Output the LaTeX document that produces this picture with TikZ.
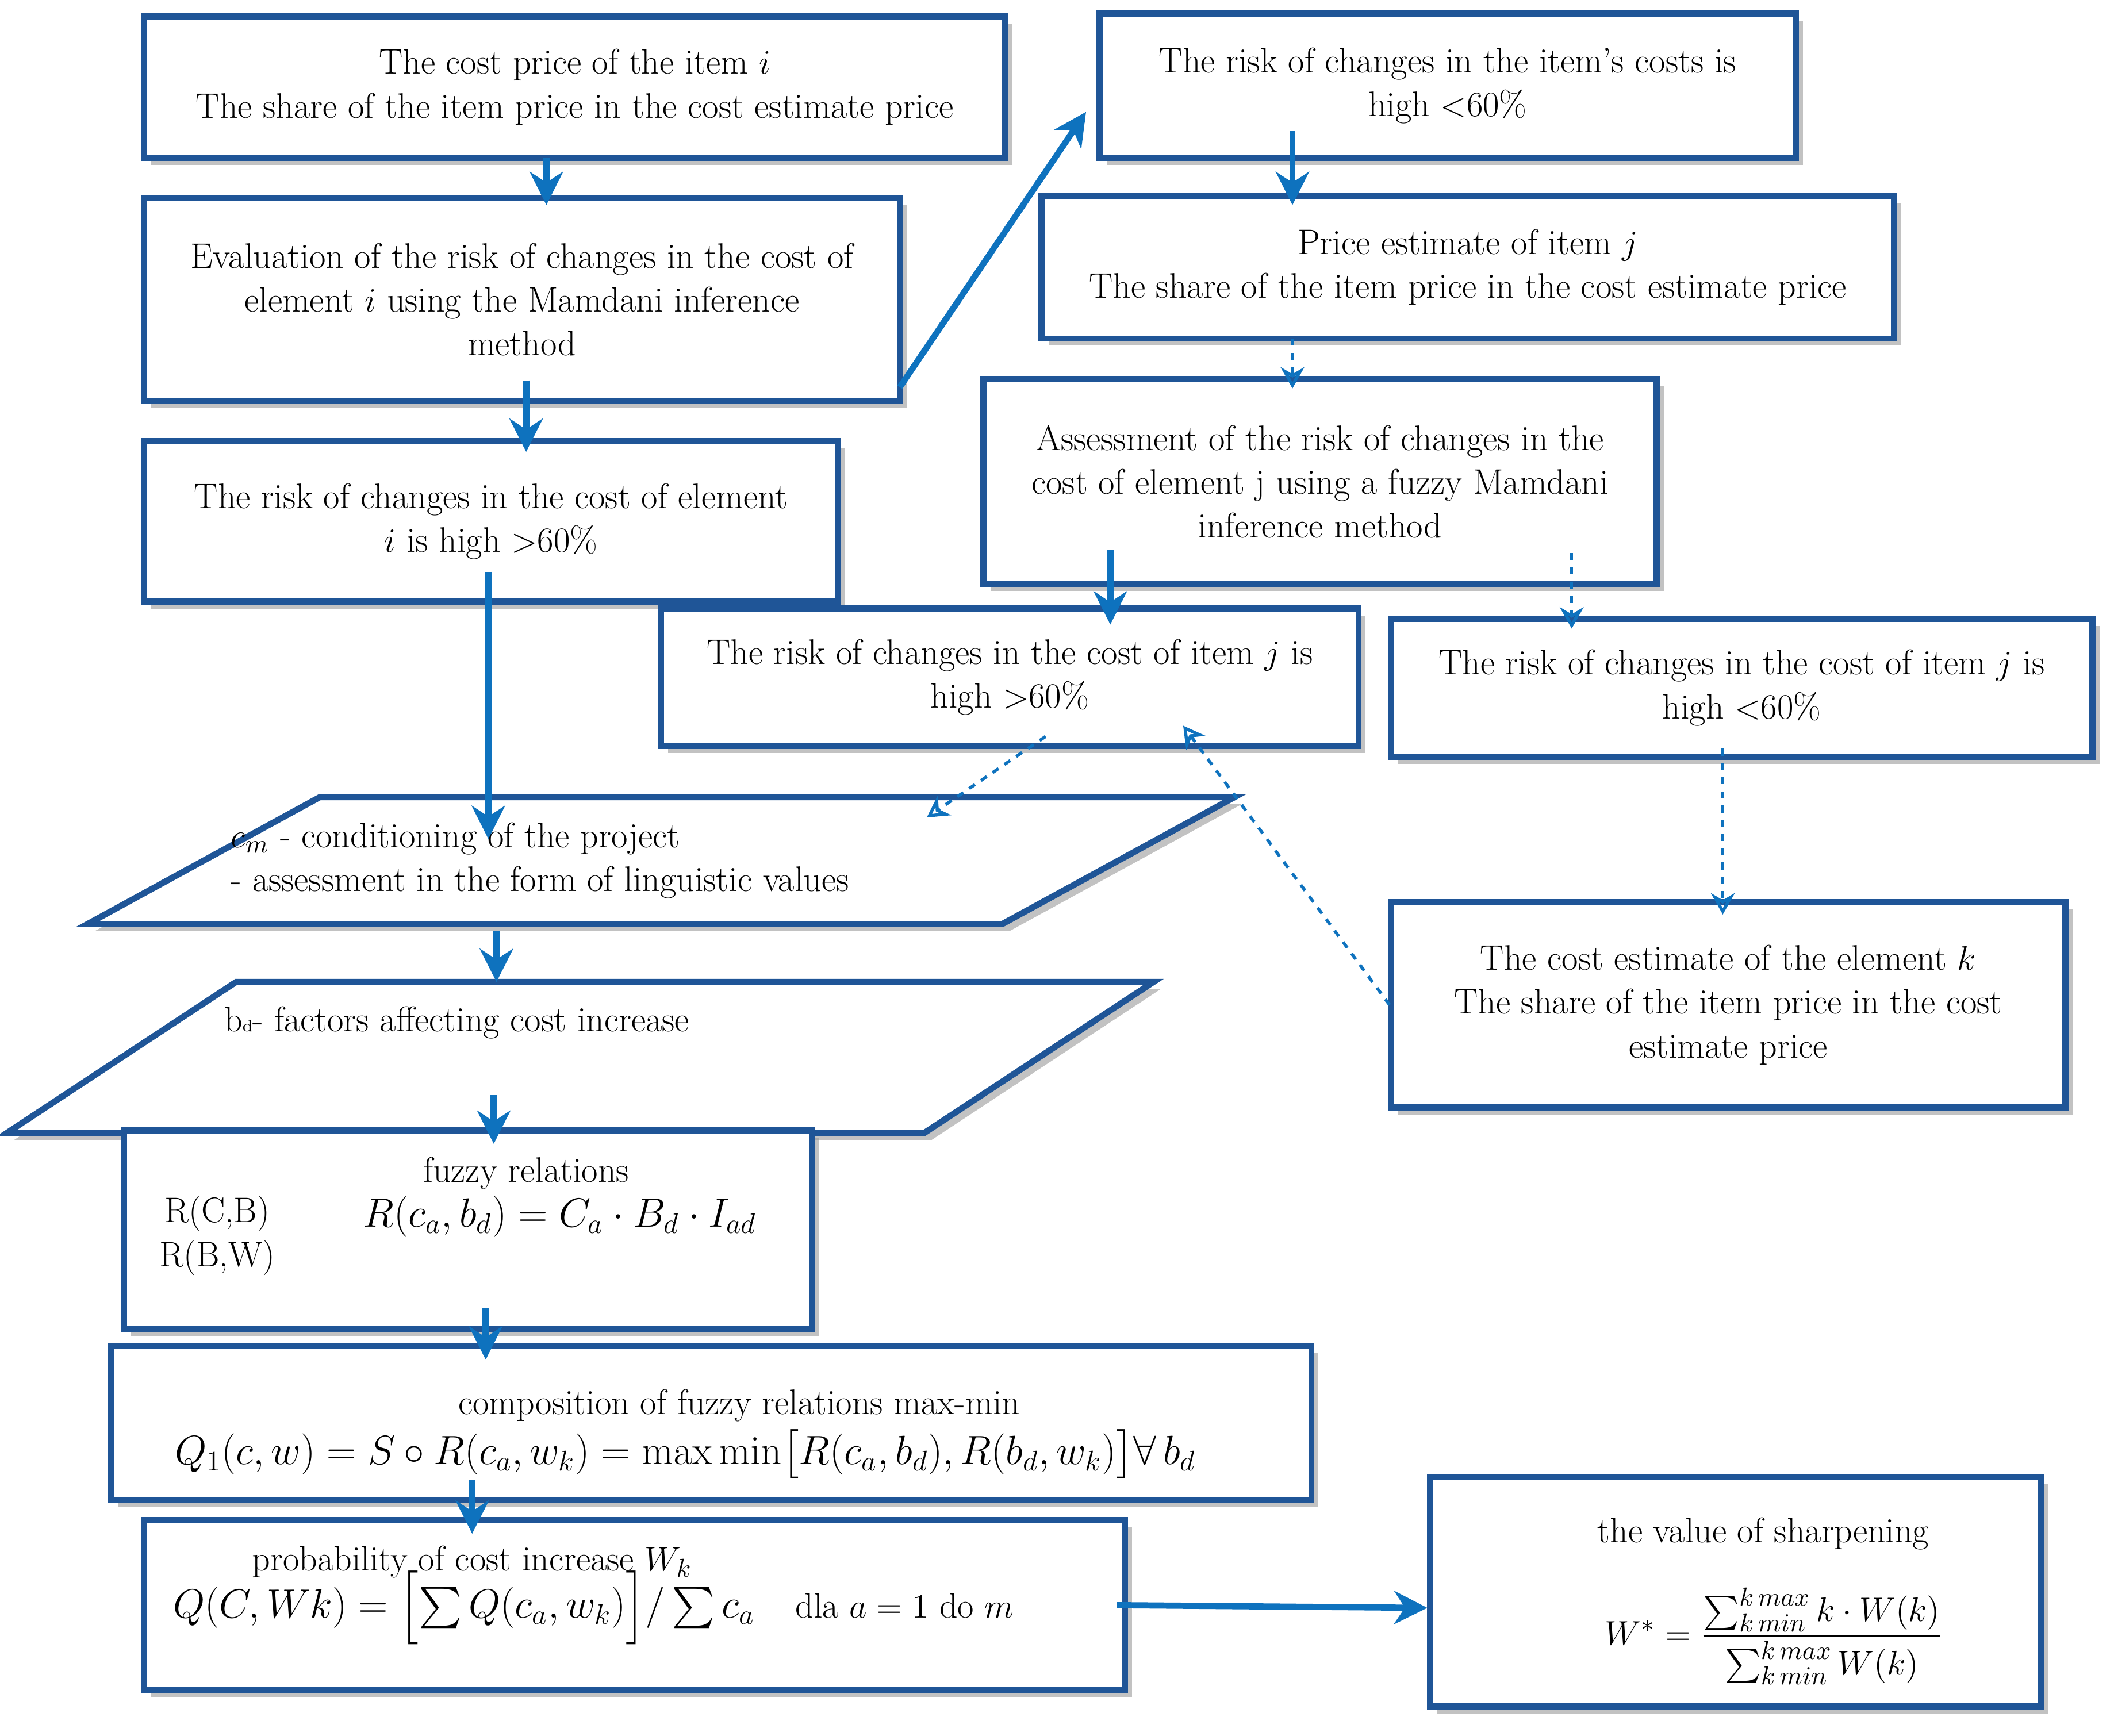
\documentclass[tikz,border=0pt]{standalone}
\usepackage{amsmath}
\usetikzlibrary{arrows.meta,shadows}
\definecolor{bdr}{HTML}{1F5597}
\definecolor{arr}{HTML}{0E72BE}
\newcommand\bx[6]{%
 \pgfmathsetmacro\cxx{(#2+#4)/2}\pgfmathsetmacro\cyy{(#3+#5)/2}%
 \pgfmathsetmacro\ww{(#4-#2)*0.02}\pgfmathsetmacro\hh{(#5-#3)*0.02}%
 \node[box,minimum width=\ww cm,minimum height=\hh cm] (#1) at (\cxx,\cyy) {#6};}
\begin{document}
\begin{tikzpicture}[x=0.02cm,y=-0.02cm,
 box/.style={draw=bdr,line width=2.6pt,fill=white,align=center,inner sep=0pt,
   drop shadow={shadow xshift=3pt,shadow yshift=-3pt,fill=black!40,opacity=0.6}},
 thick/.style={draw=arr,line width=2.6pt,-{Stealth[length=14pt,width=14pt]}},
 dsh/.style={draw=arr,line width=1.3pt,dashed,-{Stealth[length=9pt,width=10pt,open]}},
 every node/.style={font=\fontsize{15}{18.5}\selectfont}]
\useasboundingbox (0,0) rectangle (1567,1287);
\bx{b1}{107}{12}{745}{117}{The cost price of the item $i$\\The share of the item price in the cost estimate price}
\bx{b2}{107}{147}{667}{297}{Evaluation of the risk of changes in the cost of\\element $i$ using the Mamdani inference\\method}
\bx{b3}{107}{327}{621}{446}{The risk of changes in the cost of element\\$i$ is high $>$60\%}
\bx{b4}{815}{10}{1331}{117}{The risk of changes in the item's costs is\\high $<$60\%}
\bx{b5}{772}{145}{1404}{251}{Price estimate of item $j$\\The share of the item price in the cost estimate price}
\bx{b6}{729}{281}{1228}{433}{Assessment of the risk of changes in the\\cost of element j using a fuzzy Mamdani\\inference method}
\bx{b7}{490}{451}{1007}{553}{The risk of changes in the cost of item $j$ is\\high $>$60\%}
\bx{b8}{1031}{459}{1551}{561}{The risk of changes in the cost of item $j$ is\\high $<$60\%}
\bx{b9}{1031}{669}{1531}{821}{The cost estimate of the element $k$\\The share of the item price in the cost\\estimate price}
% parallelograms
\draw[draw=bdr,line width=2.6pt,fill=white,drop shadow={shadow xshift=3pt,shadow yshift=-3pt,fill=black!40,opacity=0.6}] (65,685)--(237,591)--(915,591)--(743,685)--cycle;
\node[align=left,anchor=west] (p1) at (165,638) {$c_m$ - conditioning of the project\\- assessment in the form of linguistic values};
\draw[draw=bdr,line width=2.6pt,fill=white,drop shadow={shadow xshift=3pt,shadow yshift=-3pt,fill=black!40,opacity=0.6}] (5,840)--(175,728)--(855,728)--(685,840)--cycle;
\node[anchor=west] (p2) at (160,758) {b{\scriptsize d}- factors affecting cost increase};
\bx{b10}{92}{838}{602}{985}{}
\bx{b11}{82}{998}{972}{1112}{}
\bx{b12}{107}{1127}{834}{1253}{}
\bx{b13}{1060}{1095}{1513}{1265}{}
\node (t10) at (390,870) {fuzzy relations};
\node[align=center] (t10b) at (161,916) {R(C,B)\\R(B,W)};
\node (f10) at (415,902) {\fontsize{18}{21}\selectfont$R(c_a,b_d)=C_a\cdot B_d\cdot I_{ad}$};
\node (t11) at (548,1042) {composition of fuzzy relations max-min};
\node (f11) at (508,1078) {\fontsize{18}{21}\selectfont$Q_1(c,w)=S\circ R(c_a,w_k)=\max\min\bigl[R(c_a,b_d),R(b_d,w_k)\bigr]\forall\, b_d$};
\node (t12) at (350,1158) {probability of cost increase $W_k$};
\node (f12) at (440,1192) {\fontsize{17}{21}\selectfont$Q(C,Wk)=\Bigl[\sum Q(c_a,w_k)\Bigr]/\sum c_a$\quad {\fontsize{15}{18}\selectfont dla $a=1$ do $m$}};
\node (t13) at (1307,1137) {the value of sharpening};
\node (f13) at (1315,1213) {\fontsize{15}{18}\selectfont$W^*=\dfrac{\sum_{k\,min}^{k\,max} k\cdot W(k)}{\sum_{k\,min}^{k\,max}W(k)}$};
% coordinates
\coordinate (a1) at (405,117); \coordinate (a2) at (405,152);
\coordinate (c1) at (390,282); \coordinate (c2) at (390,335);
\coordinate (d1) at (667,287); \coordinate (d2) at (805,83);
\coordinate (e1) at (958,97); \coordinate (e2) at (958,152);
\coordinate (g1) at (958,251); \coordinate (g2) at (958,288);
\coordinate (h1) at (823,408); \coordinate (h2) at (823,463);
\coordinate (i1) at (1165,410); \coordinate (i2) at (1165,466);
\coordinate (j1) at (362,424); \coordinate (j2) at (362,622);
\coordinate (k1) at (775,546); \coordinate (k2) at (687,606);
\coordinate (l1) at (1030,745); \coordinate (l2) at (877,538);
\coordinate (m1) at (1277,555); \coordinate (m2) at (1277,678);
\coordinate (n1) at (368,690); \coordinate (n2) at (368,728);
\coordinate (o1) at (366,812); \coordinate (o2) at (366,848);
\coordinate (q1) at (360,970); \coordinate (q2) at (360,1008);
\coordinate (r1) at (350,1097); \coordinate (r2) at (350,1137);
\coordinate (s1) at (828,1190); \coordinate (s2) at (1058,1192);
\draw[thick] (a1)--(a2); \draw[thick] (c1)--(c2); \draw[thick] (d1)--(d2);
\draw[thick] (e1)--(e2); \draw[dsh] (g1)--(g2); \draw[thick] (h1)--(h2);
\draw[dsh] (i1)--(i2); \draw[thick] (j1)--(j2); \draw[dsh] (k1)--(k2);
\draw[dsh] (l1)--(l2); \draw[dsh] (m1)--(m2); \draw[thick] (n1)--(n2);
\draw[thick] (o1)--(o2); \draw[thick] (q1)--(q2); \draw[thick] (r1)--(r2);
\draw[thick] (s1)--(s2);
\end{tikzpicture}
\end{document}
